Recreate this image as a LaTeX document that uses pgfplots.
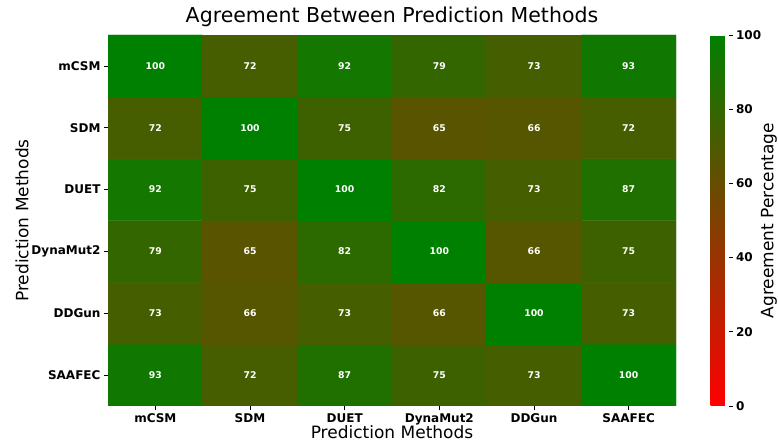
\documentclass[border=0pt]{standalone}
\usepackage{pgfplots}
\pgfplotsset{compat=1.18}
\usepackage{fontspec}
\setmainfont{DejaVu Sans}
\begin{document}
\begin{tikzpicture}
\path[use as bounding box] (0,0) rectangle (778pt,446pt);
\begin{axis}[
  at={(108pt,40pt)}, anchor=south west,
  scale only axis, width=568pt, height=371pt,
  xmin=-0.5, xmax=5.5, ymin=-0.5, ymax=5.5,
  xtick={0,1,2,3,4,5}, ytick={0,1,2,3,4,5},
  xticklabels={mCSM,SDM,DUET,DynaMut2,DDGun,SAAFEC},
  yticklabels={SAAFEC,DDGun,DynaMut2,DUET,SDM,mCSM},
  xtick pos=bottom, ytick pos=left,
  tick align=outside, major tick length=4pt,
  tick style={black, line width=0.8pt},
  axis line style={draw=none},
  tick label style={font=\fontsize{12}{14}\selectfont\bfseries},
  /pgf/number format/assume math mode=true,
  xlabel={Prediction Methods}, ylabel={Prediction Methods},
  label style={font=\fontsize{17}{20}\selectfont},
  xlabel style={yshift=6pt},
  ylabel style={yshift=-4pt},
  title={Agreement Between Prediction Methods},
  title style={font=\fontsize{20.5}{24}\selectfont, yshift=-1pt},
  colormap={rg}{rgb255=(255,0,0) rgb255=(0,128,0)},
  point meta min=0, point meta max=100,
  colorbar,
  colorbar style={
    at={(parent axis.north east)}, anchor=north west, xshift=26pt,
    width=18pt,
    ytick={0,20,40,60,80,100},
    ytick pos=right,
    tick align=outside, major tick length=4pt,
    tick style={black, line width=0.8pt},
    axis line style={draw=none},
    yticklabel style={font=\fontsize{12}{14}\selectfont\bfseries},
    /pgf/number format/assume math mode=true,
    ylabel={Agreement Percentage},
    ylabel style={font=\fontsize{17}{20}\selectfont, at={(ticklabel* cs:0.5,0pt)}, anchor=near ticklabel, yshift=-29pt},
  },
]
\addplot[matrix plot*, mesh/cols=6, point meta=explicit,
  nodes near coords={\pgfmathprintnumber[assume math mode=true]{\pgfplotspointmeta}},
  every node near coord/.append style={anchor=center, text=white, font=\fontsize{9.3}{11}\selectfont\bfseries},
] table[meta=c] {
x y c
0 0 93
1 0 72
2 0 87
3 0 75
4 0 73
5 0 100
0 1 73
1 1 66
2 1 73
3 1 66
4 1 100
5 1 73
0 2 79
1 2 65
2 2 82
3 2 100
4 2 66
5 2 75
0 3 92
1 3 75
2 3 100
3 3 82
4 3 73
5 3 87
0 4 72
1 4 100
2 4 75
3 4 65
4 4 66
5 4 72
0 5 100
1 5 72
2 5 92
3 5 79
4 5 73
5 5 93
};
\end{axis}
\end{tikzpicture}
\end{document}
